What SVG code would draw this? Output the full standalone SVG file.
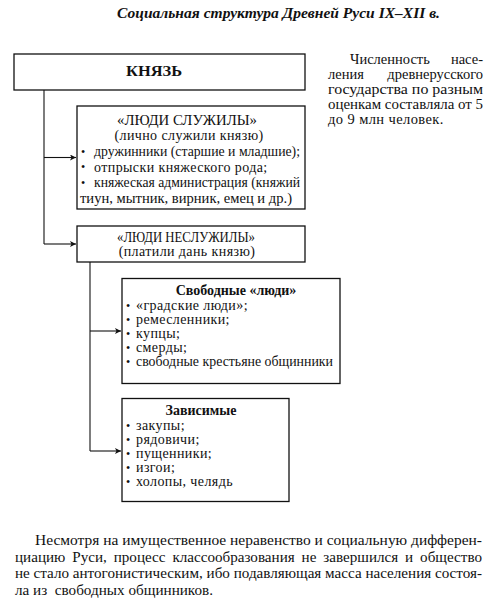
<svg xmlns="http://www.w3.org/2000/svg" width="500" height="608" viewBox="0 0 500 608">
<style>
text{font-family:"Liberation Serif","DejaVu Serif",serif;fill:#111}
.t{font-size:14px}
.w{letter-spacing:0.4px}
.b{font-weight:bold}
.c{text-anchor:middle}
.e{text-anchor:end}
.p{font-size:14.5px}
.q{font-size:14.5px}
.dot{font-size:12px}
.box{fill:#fff;stroke:#111;stroke-width:1.3}
.ln{fill:none;stroke:#111;stroke-width:1.1}
</style>
<defs>
<marker id="ah" viewBox="0 0 10 10" refX="10" refY="5" markerWidth="9" markerHeight="6" markerUnits="userSpaceOnUse" orient="auto">
<path d="M0,0 L10,5 L0,10 L2.5,5 z" fill="#111"/>
</marker>
</defs>
<rect width="500" height="608" fill="#fff"/>
<text x="117" y="18" font-size="15" font-weight="bold" font-style="italic" textLength="323" lengthAdjust="spacingAndGlyphs">Социальная структура Древней Руси IX–XII в.</text>

<g id="connectors">
<path class="ln" d="M44,90 V244"/>
<path class="ln" d="M44,157.5 H76" marker-end="url(#ah)"/>
<path class="ln" d="M44,244 H76" marker-end="url(#ah)"/>
<path class="ln" d="M90,262 V451"/>
<path class="ln" d="M90,331 H121" marker-end="url(#ah)"/>
<path class="ln" d="M90,451 H121" marker-end="url(#ah)"/>
</g>

<g id="knyaz">
<rect class="box" x="14" y="54" width="291" height="36"/>
<text class="t b" x="126" y="76" textLength="56" lengthAdjust="spacingAndGlyphs">КНЯЗЬ</text>
</g>

<g id="sluzhily">
<rect class="box" x="77" y="106" width="228" height="103"/>
<text class="t" x="117" y="125" textLength="140" lengthAdjust="spacingAndGlyphs">«ЛЮДИ СЛУЖИЛЫ»</text>
<text class="t c w" x="189" y="139.5">(лично служили князю)</text>
<text class="dot" x="81" y="155.5">•</text>
<text class="t" x="94" y="156" textLength="206" lengthAdjust="spacingAndGlyphs">дружинники (старшие и младшие);</text>
<text class="dot" x="81" y="171">•</text>
<text class="t w" x="94" y="171.5">отпрыски княжеского рода;</text>
<text class="dot" x="81" y="186.5">•</text>
<text class="t" x="94" y="187" textLength="206" lengthAdjust="spacingAndGlyphs">княжеская администрация (княжий</text>
<text class="t" x="80" y="203" textLength="212" lengthAdjust="spacingAndGlyphs">тиун, мытник, вирник, емец и др.)</text>
</g>

<g id="nesluzhily">
<rect class="box" x="77" y="226" width="228" height="36"/>
<text class="t" x="117" y="241.5" textLength="138" lengthAdjust="spacingAndGlyphs">«ЛЮДИ НЕСЛУЖИЛЫ»</text>
<text class="t c w" x="187" y="255.5">(платили дань князю)</text>
</g>

<g id="svobodnye">
<rect class="box" x="122" y="278.5" width="218" height="105"/>
<text class="t b c" x="236" y="295">Свободные «люди»</text>
<text class="dot" x="126" y="309.5">•</text>
<text class="t w" x="136" y="310">«градские люди»;</text>
<text class="dot" x="126" y="323.5">•</text>
<text class="t w" x="136" y="324">ремесленники;</text>
<text class="dot" x="126" y="337.5">•</text>
<text class="t w" x="136" y="338">купцы;</text>
<text class="dot" x="126" y="351.5">•</text>
<text class="t w" x="136" y="352">смерды;</text>
<text class="dot" x="126" y="365.5">•</text>
<text class="t" x="136" y="366" textLength="197" lengthAdjust="spacingAndGlyphs">свободные крестьяне общинники</text>
</g>

<g id="zavisimye">
<rect class="box" x="122" y="398.5" width="167" height="103"/>
<text class="t b c" x="201" y="415">Зависимые</text>
<text class="dot" x="126" y="429.5">•</text>
<text class="t w" x="136" y="430">закупы;</text>
<text class="dot" x="126" y="443.5">•</text>
<text class="t w" x="136" y="444">рядовичи;</text>
<text class="dot" x="126" y="457.5">•</text>
<text class="t w" x="136" y="458">пущенники;</text>
<text class="dot" x="126" y="471.5">•</text>
<text class="t w" x="136" y="472">изгои;</text>
<text class="dot" x="126" y="485.5">•</text>
<text class="t w" x="136" y="486">холопы, челядь</text>
</g>

<g id="note">
<text class="p" x="350" y="64">Численность</text>
<text class="p e" x="483" y="64">насе-</text>
<text class="p" x="328" y="78.5">ления</text>
<text class="p e" x="483" y="78.5">древнерусского</text>
<text class="p" x="328" y="93.5" textLength="155" lengthAdjust="spacingAndGlyphs">государства по разным</text>
<text class="p" x="328" y="108.5" textLength="155" lengthAdjust="spacingAndGlyphs">оценкам составляла от 5</text>
<text class="p w" x="328" y="123.5">до 9 млн человек.</text>
</g>

<g id="conclusion">
<text class="q" x="35" y="545" textLength="447" lengthAdjust="spacingAndGlyphs">Несмотря на имущественное неравенство и социальную дифферен-</text>
<text class="q" x="15" y="561.5" textLength="467" lengthAdjust="spacingAndGlyphs" word-spacing="3">циацию Руси, процесс классообразования не завершился и общество</text>
<text class="q" x="15" y="578" textLength="467" lengthAdjust="spacingAndGlyphs">не стало антогонистическим, ибо подавляющая масса населения состоя-</text>
<text class="q" x="15" y="594.5" xml:space="preserve" textLength="198" lengthAdjust="spacingAndGlyphs">ла из  свободных общинников.</text>
</g>
</svg>
